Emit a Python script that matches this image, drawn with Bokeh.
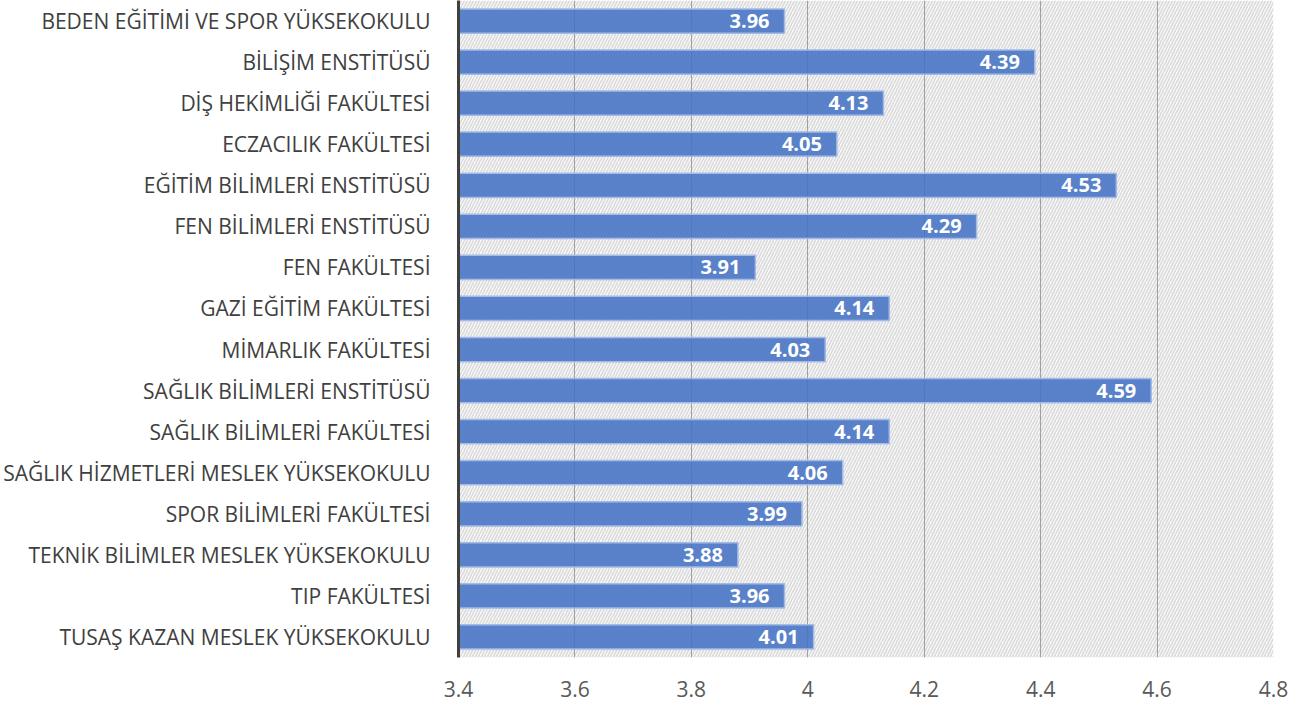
from bokeh.plotting import figure
from bokeh.models import BoxAnnotation, ColumnDataSource, FactorRange, FixedTicker, Range1d
from bokeh.core.properties import value
from bokeh.embed import file_html
from bokeh.resources import INLINE

categories = [
    "BEDEN EĞİTİMİ VE SPOR YÜKSEKOKULU",
    "BİLİŞİM ENSTİTÜSÜ",
    "DİŞ HEKİMLİĞİ FAKÜLTESİ",
    "ECZACILIK FAKÜLTESİ",
    "EĞİTİM BİLİMLERİ ENSTİTÜSÜ",
    "FEN BİLİMLERİ ENSTİTÜSÜ",
    "FEN FAKÜLTESİ",
    "GAZİ EĞİTİM FAKÜLTESİ",
    "MİMARLIK FAKÜLTESİ",
    "SAĞLIK BİLİMLERİ ENSTİTÜSÜ",
    "SAĞLIK BİLİMLERİ FAKÜLTESİ",
    "SAĞLIK HİZMETLERİ MESLEK YÜKSEKOKULU",
    "SPOR BİLİMLERİ FAKÜLTESİ",
    "TEKNİK BİLİMLER MESLEK YÜKSEKOKULU",
    "TIP FAKÜLTESİ",
    "TUSAŞ KAZAN MESLEK YÜKSEKOKULU",
]
scores = [3.96, 4.39, 4.13, 4.05, 4.53, 4.29, 3.91, 4.14, 4.03, 4.59, 4.14, 4.06, 3.99, 3.88, 3.96, 4.01]
x_ticks = [3.4, 3.6, 3.8, 4.0, 4.2, 4.4, 4.6, 4.8]
x_tick_labels = ["3.4", "3.6", "3.8", "4", "4.2", "4.4", "4.6", "4.8"]
x_min, x_max = 3.4, 4.8

FONT = "Open Sans"

src = ColumnDataSource(dict(
    cat=categories,
    score=scores,
    base=[x_min] * len(scores),
    label=["%.2f" % s for s in scores],
))

p = figure(
    width=1303, height=703,
    y_range=FactorRange(*reversed(categories), range_padding=0),
    x_range=Range1d(x_min, x_max),
    output_backend="svg", toolbar_location=None,
    min_border_left=455, min_border_right=30, min_border_top=0, min_border_bottom=46,
)
p.outline_line_color = None
p.background_fill_color = "white"

hatch = BoxAnnotation(left=x_min, right=x_max, fill_alpha=0, line_alpha=0,
                      hatch_pattern="/", hatch_color="#dcdcdc", hatch_scale=6,
                      hatch_weight=1.8, level="image")
p.add_layout(hatch)

p.hbar(y="cat", left="base", right="score", height=0.59, source=src,
       fill_color="#4472C4", fill_alpha=0.87, line_color="#a3bbe6", line_width=1.5)

p.text(x="score", y="cat", text="label", source=src, x_offset=-15,
       text_align="right", text_baseline="middle", text_color="white",
       text_font=value(FONT), text_font_style="bold", text_font_size="20px")

# x axis
p.xaxis.ticker = FixedTicker(ticks=x_ticks)
p.xaxis.major_label_overrides = {t: l for t, l in zip(x_ticks, x_tick_labels)}
p.xaxis.axis_line_color = None
p.xaxis.major_tick_line_color = None
p.xaxis.minor_tick_line_color = None
p.xaxis.major_label_standoff = 17
p.xaxis.major_label_text_font = FONT
p.xaxis.major_label_text_font_size = "21px"
p.xaxis.major_label_text_color = "#595959"

# y axis
p.yaxis.axis_line_color = "#404040"
p.yaxis.axis_line_width = 3
p.yaxis.major_tick_line_color = None
p.yaxis.minor_tick_line_color = None
p.yaxis.major_label_standoff = 22
p.yaxis.major_label_text_font = FONT
p.yaxis.major_label_text_font_size = "21px"
p.yaxis.major_label_text_color = "#404040"

p.ygrid.grid_line_color = None
p.xgrid.grid_line_color = "#a0a0a0"
p.xgrid.grid_line_width = 1

open("out.html", "w").write(file_html(p, INLINE))
